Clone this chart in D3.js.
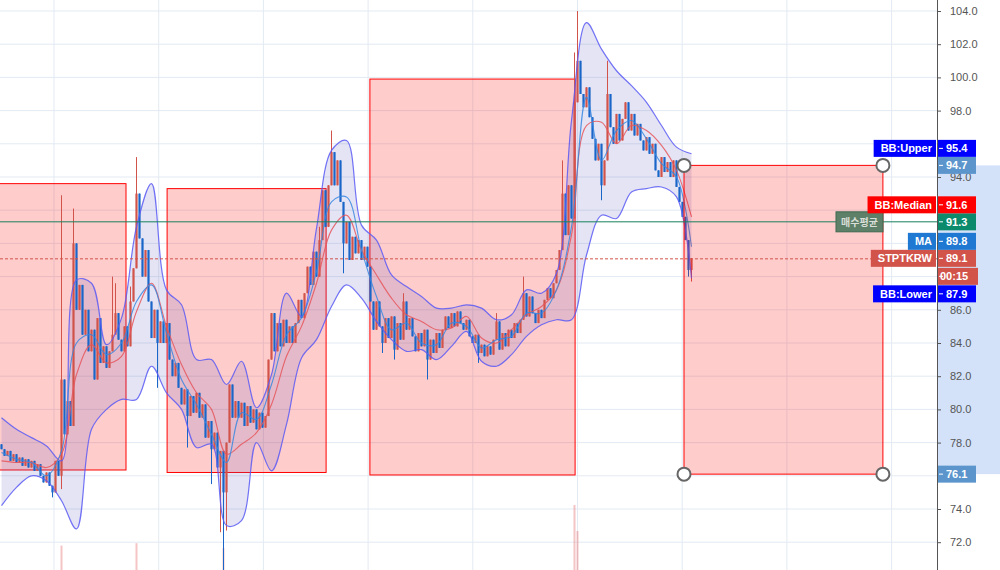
<!DOCTYPE html>
<html>
<head>
<meta charset="utf-8">
<script src="https://cdn.jsdelivr.net/npm/d3@7"></script>
<style>
body { margin: 0; background: #fff; overflow: hidden; }
svg { display: block; font-family: "Liberation Sans", Arial, sans-serif; }
</style>
</head>
<body>
<svg id="chart" width="1000" height="570"></svg>
<script>
// ---- price data (one candle per slot, open = previous close) ----
var firstOpen = 77.9;
var closes = [
  77.6, 77.2, 77.5, 76.9, 77.3, 76.8, 77.1, 76.6, 77.0, 76.5, 76.9, 76.3, 76.7, 76.0, 75.6, 76.2, 75.4, 75.0, 76.9, 76.0,
  81.8, 78.5, 80.5, 79.0, 90.0, 86.0, 87.5, 84.5, 86.0, 83.5, 84.8, 81.8, 85.5, 82.8, 83.8, 82.5, 83.5, 84.5, 85.8, 84.2,
  83.5, 85.0, 83.8, 86.5, 88.5, 93.0, 90.3, 88.0, 89.6, 86.5, 84.3, 86.0, 84.0, 85.3, 84.0, 85.2, 83.0, 82.0, 82.8, 81.3,
  80.3, 81.2, 79.6, 80.8, 79.8, 81.0, 79.5, 80.3, 78.3, 79.3, 77.6, 78.6, 76.5, 77.5, 75.0, 78.0, 81.5, 79.5, 80.5, 79.5,
  80.4, 79.0, 80.2, 79.2, 80.0, 78.8, 79.8, 78.9, 79.6, 83.0, 85.8, 83.5, 85.2, 83.8, 85.4, 84.0, 85.0, 84.0, 85.2, 86.6,
  85.5, 87.0, 88.6, 87.5, 89.5, 88.0, 90.2, 93.2, 91.0, 93.5, 95.5, 93.5, 95.0, 92.5, 90.0, 91.3, 89.0, 90.4, 89.4, 90.2,
  89.0, 89.8, 88.6, 86.5, 84.8, 86.5, 85.0, 84.0, 85.5, 84.3, 85.6, 83.6, 85.2, 84.2, 86.5, 84.8, 85.5, 84.4, 83.5, 84.6,
  83.8, 84.8, 83.0, 84.2, 83.4, 84.6, 83.7, 84.8, 85.6, 84.9, 85.8, 85.0, 85.9, 85.2, 84.8, 85.4, 84.4, 84.0, 84.5, 83.4,
  83.9, 83.2, 83.8, 83.3, 84.2, 85.3, 83.6, 84.6, 83.8, 84.8, 84.3, 85.2, 84.6, 85.4, 87.0, 85.6, 86.8, 85.8, 85.2, 86.0,
  85.5, 86.6, 87.3, 86.7, 87.6, 88.4, 89.6, 93.0, 90.5, 93.5, 91.5, 98.5, 101.0, 99.0, 98.2, 99.4, 97.6, 96.3, 95.0, 96.0,
  93.5, 95.0, 99.0, 97.0, 96.0, 97.8, 96.2, 97.5, 98.5, 96.8, 97.8, 96.5, 97.2, 96.2, 95.6, 96.4, 95.4, 96.0, 94.4, 94.0,
  95.2, 94.3, 94.9, 94.0, 95.0, 93.4, 92.5, 91.6, 90.2, 88.4, 89.1
];
// long wicks: [candle index, price]
var wickHigh = [[20, 92.9], [24, 92.1], [37, 88.0], [38, 87.6], [43, 87.4], [45, 95.2], [106, 91.0], [110, 96.8],
  [134, 87.0], [165, 85.8], [174, 88.0], [187, 95.0], [191, 101.5], [192, 104.0], [202, 101.0]];
var wickLow = [[17, 74.7], [20, 75.2], [52, 81.3], [62, 77.7], [70, 75.5], [73, 72.6], [74, 70.3], [75, 72.7],
  [114, 88.2], [127, 83.4], [131, 83.0], [142, 81.8], [159, 82.8], [200, 92.6], [229, 88.0], [230, 87.7]];
// volume spikes: [candle index, volume]
var volumes = [[20, 1.5], [45, 1.65], [74, 1.35], [191, 4.0], [192, 2.4]];

// ---- indicators, read every 5 candles ----
var bandStep = 5;
var bbUpper = [79.5, 78.8, 78.3, 77.8, 76.9, 87.8, 87.6, 83.9, 85.5, 91.0, 93.6, 87.2, 86.3, 83.0, 83.0, 81.5,
  82.9, 80.1, 82.1, 87.0, 85.6, 90.9, 95.6, 96.2, 91.1, 90.2, 88.1, 87.4, 86.8, 86.1, 86.1, 86.3,
  86.1, 85.4, 85.7, 87.2, 87.0, 88.2, 97.4, 103.3, 101.7, 100.4, 99.5, 98.5, 97.1, 95.8, 95.4];
var bbLower = [74.2, 75.3, 76.0, 75.7, 74.5, 72.8, 78.8, 80.0, 80.6, 80.6, 82.6, 81.0, 80.0, 77.7, 77.9, 73.0,
  73.3, 78.0, 76.3, 79.1, 83.1, 84.2, 86.2, 87.5, 86.7, 85.3, 84.2, 83.5, 83.6, 83.0, 83.8, 84.7,
  82.9, 82.6, 83.3, 84.4, 85.1, 85.4, 85.4, 89.3, 91.7, 91.5, 93.1, 93.3, 93.4, 92.8, 87.9];
var bbMedian = [76.9, 76.8, 76.8, 76.5, 77.3, 82.1, 83.9, 82.8, 83.2, 85.9, 87.6, 85.0, 82.7, 81.0, 80.0, 77.3,
  77.9, 78.6, 80.3, 83.2, 85.0, 87.6, 90.8, 91.7, 89.6, 88.1, 86.7, 85.7, 85.3, 84.8, 84.9, 85.6,
  84.3, 84.0, 84.8, 85.7, 86.2, 87.2, 90.5, 97.1, 97.3, 96.0, 97.1, 96.8, 95.9, 94.4, 91.6];
var maLine = [77.4, 77.0, 76.8, 76.0, 77.5, 84.0, 84.5, 83.3, 84.0, 86.5, 87.5, 84.6, 81.8, 80.3, 78.5, 76.8,
  79.8, 79.4, 81.5, 84.5, 85.5, 88.3, 92.5, 92.8, 89.6, 86.8, 84.8, 85.2, 84.0, 83.9, 85.2, 85.0,
  83.7, 84.2, 84.4, 85.8, 85.8, 87.2, 91.0, 98.8, 95.0, 96.8, 97.4, 96.3, 94.8, 94.0, 89.8];

// ---- drawings ----
var boxes = [
  {t0: -20, t1: 41.5, hi: 93.6, lo: 76.35},
  {t0: 55.2, t1: 108.2, hi: 93.3, lo: 76.2},
  {t0: 122.8, t1: 191.2, hi: 99.9, lo: 76.05},
  {t0: 227.5, t1: 293.8, hi: 94.7, lo: 76.1}
];
var avgPrice = 91.3;
var avgLabel = "매수평균";
var symbol = "STPTKRW";
var countdown = "00:15";
var priceTicks = d3.range(72, 105, 2);
var timeGrid = d3.range(17.5, 312, 34.9);

var axisX = 937, H = 570;
var svg = d3.select("#chart");
var x = d3.scaleLinear().domain([0, 230]).range([1.5, 691.5]);
var y = d3.scaleLinear().domain([72, 104]).range([542.2, 11]);
var yVol = d3.scaleLinear().domain([0, 4]).range([H, 505]);

var upCol = "#d1534a", downCol = "#1a66c8";

svg.append("rect").attr("width", 1000).attr("height", H).attr("fill", "#fff");
svg.append("defs").append("clipPath").attr("id", "plot-clip")
  .append("rect").attr("width", axisX).attr("height", H);

var plot = svg.append("g").attr("clip-path", "url(#plot-clip)");

// grid
plot.append("g").selectAll("line").data(priceTicks).join("line")
  .attr("x1", 0).attr("x2", axisX)
  .attr("y1", function (d) { return y(d); }).attr("y2", function (d) { return y(d); })
  .attr("stroke", "#e3eaf2").attr("stroke-width", 1);
plot.append("g").selectAll("line").data(timeGrid).join("line")
  .attr("x1", function (d) { return x(d); }).attr("x2", function (d) { return x(d); })
  .attr("y1", 0).attr("y2", H)
  .attr("stroke", "#e3eaf2").attr("stroke-width", 1);

// volume
plot.append("g").selectAll("rect").data(volumes).join("rect")
  .attr("x", function (d) { return x(d[0]) - 1; })
  .attr("width", 2)
  .attr("y", function (d) { return yVol(d[1]); })
  .attr("height", function (d) { return H - yVol(d[1]); })
  .attr("fill", "rgba(225,90,90,0.35)");

function drawBox(g, b) {
  g.append("rect")
    .attr("x", x(b.t0)).attr("y", y(b.hi))
    .attr("width", x(b.t1) - x(b.t0)).attr("height", y(b.lo) - y(b.hi))
    .attr("fill", "rgba(255,0,0,0.2)")
    .attr("stroke", "#ff0000").attr("stroke-width", 1);
}
boxes.slice(0, 3).forEach(function (b) { drawBox(plot, b); });

// bollinger band
var band = bbUpper.map(function (u, k) {
  return {t: k * bandStep, u: u, l: bbLower[k], m: bbMedian[k], a: maLine[k]};
});
var curve = d3.curveCatmullRom.alpha(0.5);
plot.append("path").datum(band)
  .attr("d", d3.area().x(function (d) { return x(d.t); })
    .y0(function (d) { return y(d.l); }).y1(function (d) { return y(d.u); }).curve(curve))
  .attr("fill", "rgba(95,95,190,0.17)");

// candles
var candles = closes.map(function (c, i) {
  var o = i === 0 ? firstOpen : closes[i - 1];
  return {i: i, o: o, c: c, h: Math.max(o, c), l: Math.min(o, c)};
});
wickHigh.forEach(function (d) { candles[d[0]].h = d[1]; });
wickLow.forEach(function (d) { candles[d[0]].l = d[1]; });

var cg = plot.append("g");
cg.selectAll("line").data(candles).join("line")
  .attr("x1", function (d) { return x(d.i); }).attr("x2", function (d) { return x(d.i); })
  .attr("y1", function (d) { return y(d.h); }).attr("y2", function (d) { return y(d.l); })
  .attr("stroke", function (d) { return d.c >= d.o ? upCol : downCol; })
  .attr("stroke-width", 1);
cg.selectAll("rect").data(candles).join("rect")
  .attr("x", function (d) { return x(d.i) - 1.1; })
  .attr("width", 2.2)
  .attr("y", function (d) { return y(Math.max(d.o, d.c)); })
  .attr("height", function (d) { return Math.max(1, Math.abs(y(d.o) - y(d.c))); })
  .attr("fill", function (d) { return d.c >= d.o ? upCol : downCol; });

// indicator lines
function line(key) {
  return d3.line().x(function (d) { return x(d.t); }).y(function (d) { return y(d[key]); }).curve(curve);
}
plot.append("path").datum(band).attr("d", line("u"))
  .attr("fill", "none").attr("stroke", "rgba(90,90,245,0.85)").attr("stroke-width", 1.2);
plot.append("path").datum(band).attr("d", line("l"))
  .attr("fill", "none").attr("stroke", "rgba(90,90,245,0.85)").attr("stroke-width", 1.2);
plot.append("path").datum(band).attr("d", line("m"))
  .attr("fill", "none").attr("stroke", "rgba(230,85,90,0.85)").attr("stroke-width", 1.1);
plot.append("path").datum(band).attr("d", line("a"))
  .attr("fill", "none").attr("stroke", "rgba(55,135,225,0.85)").attr("stroke-width", 1.1);

// selected box on top
var sel = boxes[3];
drawBox(plot, sel);

// horizontal lines
var lastClose = closes[closes.length - 1];
plot.append("line").attr("x1", 0).attr("x2", axisX)
  .attr("y1", y(avgPrice)).attr("y2", y(avgPrice))
  .attr("stroke", "#17805c").attr("stroke-width", 1);
plot.append("line").attr("x1", 0).attr("x2", axisX)
  .attr("y1", y(lastClose) + 0.5).attr("y2", y(lastClose) + 0.5)
  .attr("stroke", upCol).attr("stroke-width", 1).attr("stroke-dasharray", "3,2");

// average price tag
var avgG = svg.append("g");
avgG.append("rect")
  .attr("x", axisX - 101).attr("y", y(avgPrice) - 10)
  .attr("width", 47).attr("height", 20)
  .attr("fill", "#5e8068").attr("stroke", "#3e6a50").attr("stroke-width", 1);
avgG.append("text")
  .attr("x", axisX - 77.5).attr("y", y(avgPrice) + 4)
  .attr("text-anchor", "middle")
  .attr("font-family", "'Noto Sans CJK KR', sans-serif")
  .attr("font-size", 10).attr("font-weight", "bold")
  .attr("fill", "#d9dfd8").text(avgLabel);

// axis highlight for selected box
svg.append("rect")
  .attr("x", axisX + 1).attr("y", y(sel.hi))
  .attr("width", 1000 - axisX).attr("height", y(sel.lo) - y(sel.hi))
  .attr("fill", "#d3e2f8");

// price axis
var axis = svg.append("g").attr("transform", "translate(" + axisX + ",0)")
  .call(d3.axisRight(y).tickValues(priceTicks).tickFormat(d3.format(".1f")).tickSize(4).tickPadding(9));
axis.select(".domain").attr("stroke", "#555").attr("d", "M0.5,0V" + H);
axis.selectAll(".tick line").attr("stroke", "#555");
axis.selectAll(".tick text").attr("fill", "#555").attr("font-size", 11)
  .attr("font-family", "'Liberation Sans', Arial, sans-serif");

// axis labels with overlap resolution
var LH = 17;
var occupied = [];
var labelG = svg.append("g").attr("font-size", 11).attr("font-weight", "bold");

function valueTag(yc, txt, fill, w) {
  labelG.append("rect").attr("x", axisX + 1).attr("y", yc - LH / 2)
    .attr("width", w || 38).attr("height", LH).attr("fill", fill);
  labelG.append("line").attr("x1", axisX + 2).attr("x2", axisX + 6)
    .attr("y1", yc).attr("y2", yc).attr("stroke", "#fff");
  labelG.append("text").attr("x", axisX + (w ? 3 : 9)).attr("y", yc + 4)
    .attr("fill", "#fff").text(txt);
}
function nameTag(yc, txt, fill) {
  var t = labelG.append("text").attr("x", axisX - 5).attr("y", yc + 4)
    .attr("text-anchor", "end").attr("fill", "#fff").text(txt);
  var w = t.node().getComputedTextLength() + 11;
  labelG.insert("rect", function () { return t.node(); })
    .attr("x", axisX - 1 - w).attr("y", yc - LH / 2)
    .attr("width", w).attr("height", LH).attr("fill", fill);
}
function resolve(yc) {
  for (var n = 0; n < 10; n++) {
    var hit = occupied.find(function (r) { return yc + LH / 2 > r[0] + 0.1 && yc - LH / 2 < r[1] - 0.1; });
    if (!hit) break;
    yc = yc < (hit[0] + hit[1]) / 2 ? hit[0] - LH / 2 : hit[1] + LH / 2 + 0.5;
  }
  return yc;
}
function occupy(yc) { occupied.push([yc - LH / 2, yc + LH / 2]); }

var fixedTags = [
  {v: sel.hi, fill: "#5b95cc"},
  {v: sel.lo, fill: "#5b95cc"},
  {v: avgPrice, fill: "#0c8a6c"}
];
fixedTags.forEach(function (d) {
  var yc = y(d.v);
  occupy(yc);
  valueTag(yc, d.v.toFixed(1), d.fill);
});
var yLast = y(lastClose);
occupy(yLast);
valueTag(yLast, lastClose.toFixed(1), upCol);
nameTag(yLast, symbol, upCol);
var yTime = yLast + LH + 1;
occupy(yTime);
valueTag(yTime, countdown, upCol, 40);

var floatTags = [
  {v: bbUpper[bbUpper.length - 1], name: "BB:Upper", fill: "#0000ff"},
  {v: bbMedian[bbMedian.length - 1], name: "BB:Median", fill: "#ff0000"},
  {v: maLine[maLine.length - 1], name: "MA", fill: "#1f78d1"},
  {v: bbLower[bbLower.length - 1], name: "BB:Lower", fill: "#0000ff"}
];
floatTags.forEach(function (d) {
  var yc = resolve(y(d.v));
  occupy(yc);
  valueTag(yc, d.v.toFixed(1), d.fill);
  nameTag(yc, d.name, d.fill);
});

// hide tick labels that sit under a price tag
axis.selectAll(".tick").filter(function (d) {
  var yt = y(d);
  return occupied.some(function (r) { return yt > r[0] - 2 && yt < r[1] + 2; });
}).select("text").remove();

// corner handles of the selected box
var corners = [[sel.t0, sel.hi], [sel.t1, sel.hi], [sel.t0, sel.lo], [sel.t1, sel.lo]];
svg.append("g").selectAll("circle").data(corners).join("circle")
  .attr("cx", function (d) { return x(d[0]); })
  .attr("cy", function (d) { return y(d[1]); })
  .attr("r", 6.5)
  .attr("fill", "#fff").attr("stroke", "#666").attr("stroke-width", 2);
</script>
</body>
</html>
